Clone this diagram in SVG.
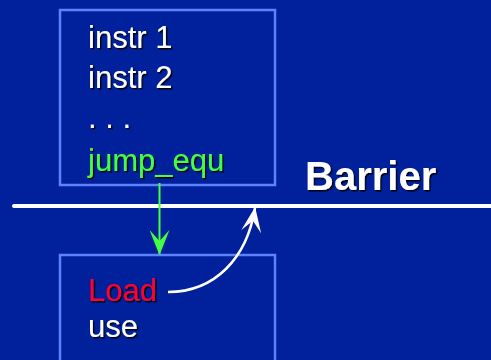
<svg xmlns="http://www.w3.org/2000/svg" width="491" height="360" viewBox="0 0 491 360">
<defs>
<filter id="sh" x="-10%" y="-10%" width="130%" height="140%">
<feDropShadow dx="1.5" dy="1.5" stdDeviation="0.3" flood-color="#000000" flood-opacity="0.9"/>
</filter>
<marker id="ag" viewBox="0 0 25 20" markerWidth="25" markerHeight="20" refX="24" refY="10" orient="auto" markerUnits="userSpaceOnUse">
<path d="M0,0 L25,10 L0,20 L11,10 Z" fill="#44FF44"/>
</marker>
<marker id="aw" viewBox="0 0 25 20" markerWidth="25" markerHeight="20" refX="24" refY="10" orient="auto" markerUnits="userSpaceOnUse">
<path d="M0,0 L25,10 L0,20 L11,10 Z" fill="#FFFFFF"/>
</marker>
<style>
.box{fill:none;stroke:#5C82FF;stroke-width:2.5}
.t{font-family:"Liberation Sans",Arial,sans-serif;font-size:31px;fill:#FFFFFF;filter:url(#sh)}
.g{fill:#44FF44}
.r{fill:#FF0033}
.b{font-family:"Liberation Sans",Arial,sans-serif;font-size:40px;font-weight:bold;fill:#FFFFFF;filter:url(#sh)}
</style>
</defs>
<rect width="491" height="360" fill="#00219B"/>
<g id="top-block">
<rect class="box" x="60" y="10" width="215" height="175"/>
<text class="t" x="88" y="48">instr 1</text>
<text class="t" x="88" y="88">instr 2</text>
<text class="t" x="88" y="128">. . .</text>
<text class="t g" x="88" y="171">jump_equ</text>
</g>
<g id="barrier">
<line x1="14" y1="206" x2="495" y2="206" stroke="#FFFFFF" stroke-width="4" stroke-linecap="round"/>
<text class="b" x="305" y="190">Barrier</text>
</g>
<g id="bottom-block">
<rect class="box" x="60" y="255" width="215" height="120"/>
<text class="t r" x="88" y="301">Load</text>
<text class="t" x="88" y="337">use</text>
</g>
<g id="connectors">
<line x1="159.5" y1="183" x2="159.5" y2="254" stroke="#44FF44" stroke-width="2" marker-end="url(#ag)"/>
<path d="M168,292 C215,292 247,258 255,208" fill="none" stroke="#FFFFFF" stroke-width="2.5" marker-end="url(#aw)"/>
</g>
</svg>
